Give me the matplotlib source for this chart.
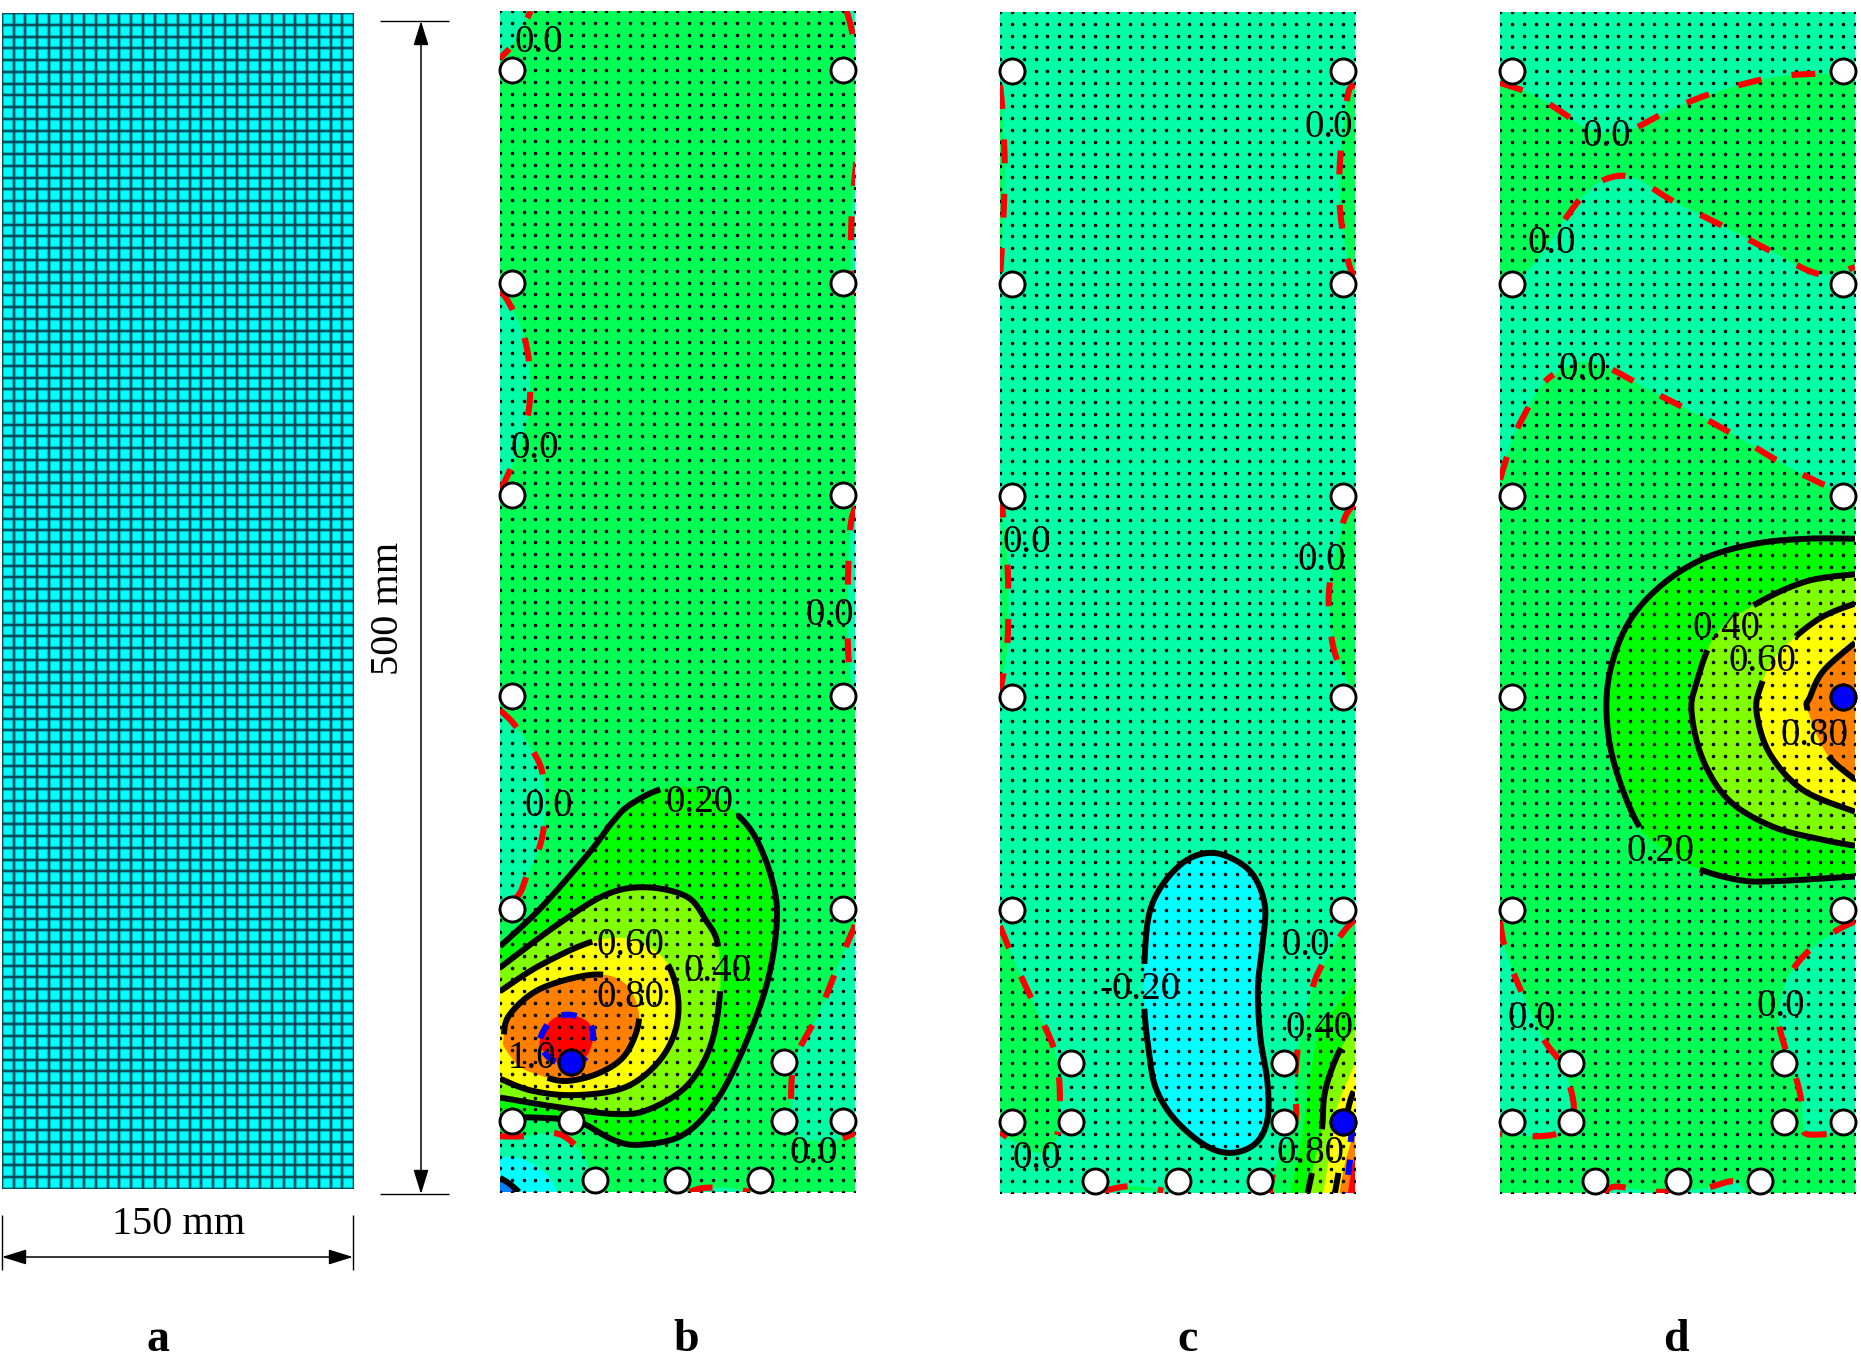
import matplotlib
matplotlib.use('Agg')
import matplotlib.pyplot as plt
import numpy as np

plt.rcParams['font.family'] = ['Liberation Serif', 'DejaVu Serif']

W, H = 1861, 1366

# colours of the contour bands
TEAL = '#00FFA6'
G55 = '#00FF55'
G00 = '#00FF00'
LIME = '#80FF00'
YEL = '#FFFF00'
ORA = '#FF8000'
RED = '#FF0000'
CYAN = '#00FFFF'
BLUE = '#0080FF'

# sensor positions, mm (same for all the specimens)
sens_x = [5, 145, 5, 145, 5, 145, 5, 145, 5, 145, 5, 145, 30, 120, 30, 120, 40, 75, 110]
sens_y = [475, 475, 385, 385, 295, 295, 210, 210, 120, 120, 30, 30, 30, 30, 55, 55, 5, 5, 5]

# active sensor (blue) of each specimen
b_act = (30, 55)
c_act = (145, 30)
d_act = (145, 210)

# ---- b: contour outlines, mm
b_c20 = [(0, 104), (17, 120), (38, 144), (47, 156), (55, 164), (70, 171), (87, 170), (99, 161), (108, 150), (115, 132),
         (117, 115), (113, 89), (103, 61), (91, 38), (77, 24), (59, 20), (48, 22), (35, 29), (25, 31), (0, 32)]
b_c40 = [(0, 95), (24, 113), (45, 126), (62, 129), (79, 125), (87, 115), (92, 105), (93, 85), (89, 62), (79, 45),
         (63, 35), (49, 33), (24, 36), (0, 40)]
b_c60 = [(0, 85), (17, 96), (39, 106), (55, 107), (69, 99), (75, 84), (74, 68), (66, 54), (52, 44), (31, 41),
         (13, 43), (0, 48)]
b_c80 = [(1.5, 65), (4, 75), (17, 86), (39, 92), (52, 89), (58, 79), (58, 69), (52, 57), (41, 50), (28, 47),
         (18, 49), (8.5, 53), (2, 61)]
b_c100 = [(17, 65), (22, 73), (30, 75), (38, 71), (39, 63), (34, 55), (24, 55), (18, 60)]
b_t1 = [(0, 480), (5.6, 486), (10, 494), (13, 500)]
b_t2 = [(0, 382), (4, 376), (10, 363), (12.7, 346.5), (12, 330), (8, 315), (3.5, 304), (0, 297)]
b_t3 = [(0, 204), (6, 198), (14, 186.5), (18, 177), (19, 161), (17, 147), (11, 133), (8, 126), (0, 118)]
b_t4 = [(146.5, 500), (148.6, 492), (150, 483)]
b_t5 = [(150.5, 436), (148.6, 414), (148.4, 389), (150.5, 376)]
b_t6 = [(150, 290), (148, 281), (147, 258), (147, 231), (148.6, 214), (150, 208)]
b_t7 = [(150, 113), (143.7, 98), (135, 76.5), (125, 57), (123, 41), (124, 26), (130, 22), (142, 22), (150, 25)]
b_t8 = [(0, 23.6), (10, 23.6), (22.5, 25), (30, 21.5), (36.6, 13), (39.4, 0)]
b_t9 = [(80, 0), (86, 1.7), (97, 1.7), (105.6, 0)]
b_cy = [(0, 15), (10, 13.7), (20, 7.3), (24, 0)]
b_bl = [(0, 6), (4, 3.5), (8, 0)]
b_labels = [(16.5, 487.6, '0.0'), (14.8, 315.6, '0.0'), (139.4, 245, '0.0'), (20.4, 164, '0.0'),
            (84.5, 165.5, '0.20'), (55, 105, '0.60'), (92, 94, '0.40'), (55, 83, '0.80'),
            (13.4, 57.5, '1.0'), (132.4, 17, '0.0')]

# ---- c
c_low = [(61, 97), (63, 118), (69, 131), (79, 141), (90, 144), (101, 140), (108, 133), (112, 121), (111, 106),
         (109, 87), (110, 66), (113, 47), (113, 31), (108, 21), (98, 17), (87, 20), (74, 31), (66, 44), (63, 59),
         (61, 78)]
c_g1 = [(0, 113), (7, 96), (15.5, 77.5), (22.5, 62), (25, 48), (25, 31), (22.5, 20), (15.5, 17), (5.5, 22), (0, 26)]
c_g2 = [(44, 1), (56, 3), (69, 1)]
c_g3 = [(0, 469), (1, 458.5), (2, 435), (1.4, 412), (0, 387)]
c_g4 = [(0.7, 292), (2.5, 275), (3.5, 256), (3, 231), (0, 212)]
c_g5 = [(150, 469), (147, 465), (143.7, 437.5), (143.7, 416), (147, 395), (150, 387)]
c_g6 = [(150, 292), (145, 284), (139.4, 258.5), (139.4, 241.7), (142, 227), (150, 210)]
c_g7 = [(150, 116), (144, 109), (135, 94.5), (131, 83), (126, 62), (124.6, 45), (124.6, 30), (116, 10), (114, 0)]
c_f20 = [(150, 89), (141, 77.5), (135, 69), (131.5, 52), (129, 34), (126, 15.5), (122.5, 0)]
c_c40 = [(150, 70), (144.4, 62), (140, 52), (137, 41), (136, 27), (133, 14), (130, 0)]
c_f60 = [(150, 55), (144.4, 42), (141, 31), (139, 15.5), (136.6, 0)]
c_c80 = [(149.5, 43), (148.6, 41), (147, 35), (145.5, 24), (143, 8.5), (141.5, 0)]
c_f80 = [(150, 27.5), (145.8, 12.7), (143.4, 0)]
c_f100 = [(150, 15.5), (148.6, 10), (147, 0)]
c_dash_b = [(149, 28), (148, 20), (148, 15), (146.5, 3), (146, 0)]
c_labels = [(129, 105.5, '0.0'), (59, 87, '-0.20'), (135, 70.5, '0.40'), (131.4, 17.5, '0.80'), (15.5, 15.4, '0.0'),
            (11.3, 276, '0.0'), (139, 452, '0.0'), (136, 268.6, '0.0')]

# ---- d
d_up = [(0, 470), (14, 465), (27, 457), (35, 451.5), (45, 449), (55, 450), (73, 459), (94, 467), (120, 473), (150, 474)]
d_mid = [(0, 384), (10, 389), (20, 401), (28, 413), (35, 422), (44, 429), (56, 430), (73, 420), (93, 410), (114, 399),
         (135, 389), (150, 392)]
d_low = [(0, 302), (3, 312), (7, 323), (17, 341), (25, 348), (35, 352), (46.5, 349), (63, 340), (84.5, 329), (104, 318),
         (122.5, 307), (141, 298), (150, 295)]
d_t1 = [(0, 115), (2, 104), (7, 90), (18, 66), (25, 56), (29.6, 45), (31, 34), (25.6, 26), (15.5, 24), (0, 25)]
d_t2 = [(150, 115), (142, 111), (131, 103), (124, 95), (120, 87), (117.6, 74.6), (120, 63), (125, 49), (127.5, 38),
        (128, 29.5), (129.5, 25), (140, 25), (150, 25)]
d_t3 = [(44, 0), (49, 2.7), (66, 0.5), (86, 2), (99, 5), (104, 0)]
d_c20 = [(150, 277), (129.6, 277), (108.5, 275), (87, 269), (69, 258), (55, 242.6), (47, 223), (45, 203), (48.6, 180.5),
         (59, 155), (72, 144), (84.5, 137), (101, 132.5), (115.5, 132), (150, 134)]
d_c40 = [(150, 262), (129.6, 259), (108.5, 249.6), (91.5, 237), (83, 216), (81, 203), (85.9, 183), (97, 166),
         (115.5, 155), (136.6, 149.5), (150, 147)]
d_c60 = [(150, 249.6), (134, 242.6), (117, 227.8), (110, 214), (108.5, 203), (114, 186), (128, 170.6), (150, 161.4)]
d_c80 = [(150, 233), (136.6, 221), (131, 210), (130, 204.5), (138, 186), (150, 175)]
d_labels = [(45, 448, '0.0'), (21.8, 402.8, '0.0'), (35, 349.6, '0.0'), (13.4, 74.6, '0.0'), (118.7, 79.6, '0.0'),
            (68, 145.5, '0.20'), (95.8, 239.7, '0.40'), (111, 226, '0.60'), (132.7, 194.6, '0.80')]

# panel frames in the picture, px (left, top, right, bottom)
frame_a = (2, 13, 354, 1189)
frame_b = (500, 11, 855, 1192)
frame_c = (1000, 12, 1355, 1193)
frame_d = (1500, 12, 1855, 1193)


def smooth(pts, closed=False, n=14):
    # catmull-rom through the points
    p = np.array(pts, dtype=float)
    if len(p) < 3:
        return p
    if closed:
        p = np.vstack([p[-1], p, p[0], p[1]])
    else:
        p = np.vstack([p[0], p, p[-1]])
    out = []
    for i in range(1, len(p) - 2):
        t = np.linspace(0, 1, n, endpoint=False)[:, None]
        a, b, c, d = p[i - 1], p[i], p[i + 1], p[i + 2]
        out.append(0.5 * (2 * b + (c - a) * t + (2 * a - 5 * b + 4 * c - d) * t ** 2 + (3 * b - a - 3 * c + d) * t ** 3))
    out.append(p[-2][None, :])
    return np.vstack(out)


def make_axes(frame):
    x0, y0, x1, y1 = frame
    ax = fig.add_axes([x0 / W, 1 - y1 / H, (x1 - x0) / W, (y1 - y0) / H])
    ax.set_xlim(0, 150)
    ax.set_ylim(0, 500)
    ax.set_xticks([])
    ax.set_yticks([])
    for s in ax.spines.values():
        s.set_visible(False)
    return ax


def broken(curve, labels):
    # contour lines stop at their labels
    xy = curve.copy()
    for x, y, t in labels:
        hw = len(t) * 3.6 + 1.5
        mask = (np.abs(xy[:, 0] - x) < hw) & (np.abs(xy[:, 1] - y) < 9)
        xy[mask] = np.nan
    return xy


def panel(frame, base, fills, dashes, blacks, closed_blacks, blues, labels, act):
    ax = make_axes(frame)
    ax.set_facecolor(base)
    for col, parts, *cl in fills:
        ax.fill(*np.vstack([smooth(p, bool(cl)) for p in parts]).T, color=col, lw=0, zorder=1)
    gx, gy = np.meshgrid(np.arange(0, 151, 5), np.arange(0, 501, 5))
    ax.scatter(gx.ravel(), gy.ravel(), s=6.5, c='k', linewidths=0, zorder=2)
    for c in dashes:
        xy = broken(smooth(c), labels)
        ax.plot(xy[:, 0], xy[:, 1], color='#FF0000', lw=4.4, ls=(0, (3.9, 5.0)), dash_capstyle='butt', zorder=3)
    for c in blues:
        xy = smooth(c, len(c) > 6)
        ax.plot(xy[:, 0], xy[:, 1], color='#0000FF', lw=4.4, ls=(0, (2.5, 2.9)), dash_capstyle='butt', zorder=3)
    for c in blacks:
        xy = broken(smooth(c), labels)
        ax.plot(xy[:, 0], xy[:, 1], color='k', lw=4.3, solid_capstyle='butt', zorder=4)
    for c in closed_blacks:
        xy = broken(smooth(c, True), labels)
        ax.plot(xy[:, 0], xy[:, 1], color='k', lw=4.3, solid_capstyle='butt', zorder=4)
    ax.plot(sens_x, sens_y, 'o', ms=18, mfc='white', mec='k', mew=2.1, clip_on=False, zorder=5)
    ax.plot(act[0], act[1], 'o', ms=18, mfc='#0000FF', mec='k', mew=2.1, clip_on=False, zorder=6)
    for x, y, t in labels:
        ax.text(x, y - 0.8, t, fontsize=28, ha='center', va='center', zorder=7, clip_on=False)
    return ax


fig = plt.figure(figsize=(W / 100, H / 100), dpi=100)

# a: the mesh, 5 mm cells
ax = make_axes(frame_a)
ax.set_facecolor('#00FFFF')
ax.vlines(np.arange(0, 151, 5), 0, 500, color='#00808C', lw=3.0, alpha=0.5, zorder=1)
ax.hlines(np.arange(0, 501, 5), 0, 150, color='#00808C', lw=3.0, alpha=0.5, zorder=1)
ax.vlines(np.arange(0, 151, 5), 0, 500, color='#063F4C', lw=1.2, zorder=2)
ax.hlines(np.arange(0, 501, 5), 0, 150, color='#063F4C', lw=1.2, zorder=2)

# b
panel(frame_b, G55,
      [(TEAL, [b_t1, [(0, 500)]]), (TEAL, [b_t2]), (TEAL, [b_t3]), (TEAL, [b_t4, [(150, 500)]]), (TEAL, [b_t5]),
       (TEAL, [b_t6]), (TEAL, [b_t7]), (TEAL, [b_t8, [(0, 0)]]), (TEAL, [b_t9]), (CYAN, [b_cy, [(0, 0)]]),
       (BLUE, [b_bl, [(0, 0)]]), (G00, [b_c20]), (LIME, [b_c40]), (YEL, [b_c60]), (ORA, [b_c80], True),
       (RED, [b_c100], True)],
      [b_t1, b_t2, b_t3, b_t4, b_t5, b_t6, b_t7, b_t8, b_t9],
      [b_bl, b_c20, b_c40, b_c60], [b_c80], [b_c100], b_labels, b_act)

# c
panel(frame_c, TEAL,
      [(CYAN, [c_low], True), (G55, [c_g1]), (G55, [c_g2]), (G55, [c_g3]), (G55, [c_g4]), (G55, [c_g5]), (G55, [c_g6]),
       (G55, [c_g7, [(150, 0)]]), (G00, [c_f20, [(150, 0)]]), (LIME, [c_c40, [(150, 0)]]), (YEL, [c_f60, [(150, 0)]]),
       (ORA, [c_f80, [(150, 0)]]), (RED, [c_f100, [(150, 0)]])],
      [c_g1, c_g2, c_g3, c_g4, c_g5, c_g6, c_g7],
      [c_c40, c_c80], [c_low], [c_dash_b], c_labels, c_act)

# d
panel(frame_d, G55,
      [(TEAL, [d_up, [(150, 500), (0, 500)]]), (TEAL, [d_mid, d_low[::-1]]), (TEAL, [d_t1]), (TEAL, [d_t2]),
       (TEAL, [d_t3]), (G00, [d_c20]), (LIME, [d_c40]), (YEL, [d_c60]), (ORA, [d_c80])],
      [d_up, d_mid, d_low, d_t1, d_t2, d_t3],
      [d_c20, d_c40, d_c60, d_c80], [], [], d_labels, d_act)

# dimension lines and captions, in picture px
ann = fig.add_axes([0, 0, 1, 1])
ann.set_xlim(0, W)
ann.set_ylim(H, 0)
ann.axis('off')
ann.patch.set_alpha(0)

arrow = dict(arrowstyle='<|-|>,head_length=1.0,head_width=0.31', color='k', lw=1.1, shrinkA=0, shrinkB=0,
             mutation_scale=15)
ann.annotate('', xy=(2, 1257), xytext=(353, 1257), arrowprops=arrow)
ann.vlines([2, 353], 1215, 1270, color='k', lw=1.0)
ann.annotate('', xy=(421, 21), xytext=(421, 1194), arrowprops=arrow)
ann.hlines([21, 1194], 380, 449, color='k', lw=1.0)
ann.text(179, 1225, '150 mm', fontsize=29, ha='center', va='center')
ann.text(388, 608, '500 mm', fontsize=29, ha='center', va='center', rotation=90)
for x, t in zip([158, 686, 1188, 1676], ['a', 'b', 'c', 'd']):
    ann.text(x, 1340, t, fontsize=33, fontweight='bold', ha='center', va='center')

fig.savefig('out.png', dpi=100, facecolor='white')
